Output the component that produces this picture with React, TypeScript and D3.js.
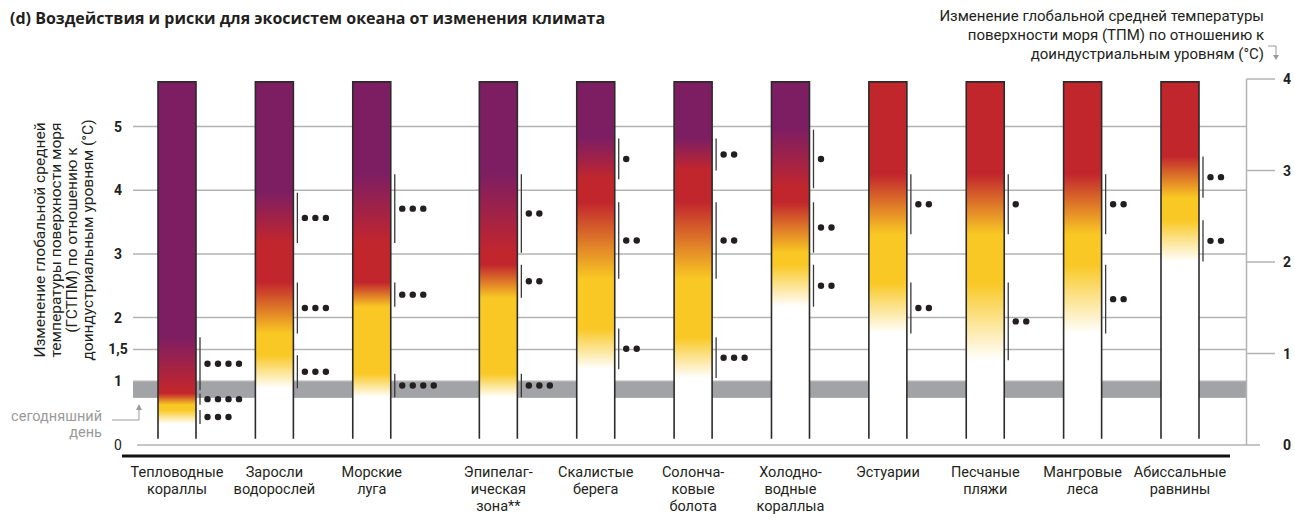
import { useEffect, useRef } from "react";
import * as d3 from "d3";

// экосистемы (подписи снизу)
const ecosystems = [
  "Тепловодные\nкораллы",
  "Заросли\nводорослей",
  "Морские\nлуга",
  "Эпипелаг-\nическая\nзона**",
  "Скалистые\nберега",
  "Солонча-\nковые\nболота",
  "Холодно-\nводные\nкораллыа",
  "Эстуарии",
  "Песчаные\nпляжи",
  "Мангровые\nлеса",
  "Абиссальные\nравнины",
];

// переходы риска: [нижняя граница, верхняя граница, уверенность] — ГСТПМ, °C
const undetectableToModerate = [
  [0.33, 0.55, 3],
  [0.89, 1.41, 3],
  [0.75, 1.12, 4],
  [0.75, 1.12, 3],
  [1.19, 1.83, 2],
  [1.05, 1.69, 3],
  [2.17, 2.83, 2],
  [1.75, 2.55, 2],
  [1.33, 2.55, 2],
  [1.75, 2.83, 2],
  [2.88, 3.53, 2],
];
const moderateToHigh = [
  [0.63, 0.81, 4],
  [1.75, 2.55, 3],
  [2.17, 2.55, 3],
  [2.31, 2.83, 2],
  [2.61, 3.81, 2],
  [2.61, 3.81, 2],
  [3.02, 3.81, 2],
  [3.31, 4.25, 2],
  [3.31, 4.25, 1],
  [3.31, 4.25, 2],
  [3.88, 4.53, 2],
];
const highToVeryHigh = [
  [0.86, 1.69, 4],
  [3.17, 3.96, 3],
  [3.17, 4.25, 3],
  [3.02, 4.25, 2],
  [4.17, 4.81, 1],
  [4.31, 4.81, 2],
  [4.03, 4.95, 1],
  null,
  null,
  null,
  null,
];

// шкалы
const gmstTicks = [0, 1, 1.5, 2, 3, 4, 5];
const gmstTickLabels = ["0", "1", "1,5", "2", "3", "4", "5"];
const sstTicks = [0, 1, 2, 3, 4];
const todayRange = [0.74, 0.99];
const barRange = [0.1, 5.7];

// белый, жёлтый, красный, фиолетовый
const levelColors = ["#FFFFFF", "#F9C824", "#C2262D", "#7E1E62"];

const FONT = "Roboto, 'Open Sans', sans-serif";

export default function App() {
  const ref = useRef<SVGSVGElement>(null);

  useEffect(() => {
    if (!ref.current) return;
    const svg = d3.select(ref.current);
    svg.selectAll("*").remove();

    const y = d3.scaleLinear().domain([0, 5]).range([445, 126.5]);
    const ySst = d3.scaleLinear().domain([0, 4]).range([445, 79]);
    // небольшой разрыв перед эпипелагической зоной
    const slot = (i: number) => i + (i >= 3 ? 0.3 : 0);
    const x = d3.scaleLinear().domain([0, slot(10)]).range([177, 1180]);
    const barW = 38;
    const gridLeft = 133;
    const axisX = 1246.5;

    // заголовок
    svg
      .append("text")
      .attr("x", 10)
      .attr("y", 24)
      .style("font-family", "'Open Sans', sans-serif")
      .style("font-size", "16px")
      .style("font-weight", 700)
      .style("fill", "#231f20")
      .text("(d) Воздействия и риски для экосистем океана от изменения климата");

    // заголовок правой оси
    const rightTitle = [
      "Изменение глобальной средней температуры",
      "поверхности моря (ТПМ) по отношению к",
      "доиндустриальным уровням (°C)",
    ];
    svg
      .append("g")
      .selectAll("text")
      .data(rightTitle)
      .enter()
      .append("text")
      .attr("x", 1264)
      .attr("y", (_, i) => 21 + i * 19)
      .attr("text-anchor", "end")
      .style("font-family", FONT)
      .style("font-size", "15px")
      .style("fill", "#231f20")
      .text((d) => d);
    svg
      .append("path")
      .attr("d", "M1268,46H1276V56")
      .style("fill", "none")
      .style("stroke", "#9a9a9a")
      .style("stroke-width", 1);
    svg
      .append("path")
      .attr("d", "M1273,55L1276,60L1279,55Z")
      .style("fill", "#9a9a9a");

    // заголовок левой оси
    const leftTitle = [
      "Изменение глобальной средней",
      "температуры поверхности моря",
      "(ГСТПМ) по отношению к",
      "доиндустриальным уровням (°C)",
    ];
    svg
      .append("g")
      .selectAll("text")
      .data(leftTitle)
      .enter()
      .append("text")
      .attr("transform", (_, i) => `translate(${45 + i * 16},240) rotate(-90)`)
      .attr("text-anchor", "middle")
      .style("font-family", FONT)
      .style("font-size", "15.5px")
      .style("fill", "#231f20")
      .text((d) => d);

    // сегодняшний день
    svg
      .append("rect")
      .attr("x", gridLeft)
      .attr("width", axisX - gridLeft)
      .attr("y", y(todayRange[1]))
      .attr("height", y(todayRange[0]) - y(todayRange[1]))
      .style("fill", "#A2A3A6");

    const today = ["сегодняшний", "день"];
    svg
      .append("g")
      .selectAll("text")
      .data(today)
      .enter()
      .append("text")
      .attr("x", 102)
      .attr("y", (_, i) => 421 + i * 16)
      .attr("text-anchor", "end")
      .style("font-family", FONT)
      .style("font-size", "14.5px")
      .style("fill", "#9a9a9a")
      .text((d) => d);
    svg
      .append("path")
      .attr("d", "M112,420H139V409")
      .style("fill", "none")
      .style("stroke", "#9a9a9a")
      .style("stroke-width", 1);
    svg
      .append("path")
      .attr("d", "M136,410L139,404L142,410Z")
      .style("fill", "#9a9a9a");

    // сетка
    svg
      .append("g")
      .selectAll("line")
      .data(gmstTicks)
      .enter()
      .append("line")
      .attr("x1", (d) => (d === 0 ? 137 : gridLeft))
      .attr("x2", (d) => (d === 0 ? 1260 : axisX))
      .attr("y1", (d) => y(d))
      .attr("y2", (d) => y(d))
      .style("stroke", "#B3B3B3")
      .style("stroke-width", 1.5);

    svg
      .append("g")
      .selectAll("text")
      .data(gmstTicks)
      .enter()
      .append("text")
      .attr("x", 118)
      .attr("y", (d) => y(d))
      .attr("dy", "0.36em")
      .attr("text-anchor", "middle")
      .style("font-family", FONT)
      .style("font-size", "14px")
      .style("font-weight", (d) => (d === 0 ? 400 : 700))
      .style("fill", "#231f20")
      .text((_, i) => gmstTickLabels[i]);

    // правая ось (ТПМ)
    svg
      .append("line")
      .attr("x1", axisX)
      .attr("x2", axisX)
      .attr("y1", ySst(4))
      .attr("y2", ySst(0))
      .style("stroke", "#B3B3B3")
      .style("stroke-width", 1.5);
    svg
      .append("g")
      .selectAll("line")
      .data(sstTicks.filter((d) => d > 0))
      .enter()
      .append("line")
      .attr("x1", axisX)
      .attr("x2", 1275)
      .attr("y1", (d) => ySst(d))
      .attr("y2", (d) => ySst(d))
      .style("stroke", "#B3B3B3")
      .style("stroke-width", 1.5);
    svg
      .append("g")
      .selectAll("text")
      .data(sstTicks)
      .enter()
      .append("text")
      .attr("x", 1283)
      .attr("y", (d) => ySst(d))
      .attr("dy", "0.36em")
      .style("font-family", FONT)
      .style("font-size", "14px")
      .style("font-weight", 700)
      .style("fill", "#231f20")
      .text((d) => d);

    // нижняя черта
    svg
      .append("line")
      .attr("x1", 122)
      .attr("x2", 1230)
      .attr("y1", 456)
      .attr("y2", 456)
      .style("stroke", "#111")
      .style("stroke-width", 3);

    // столбцы
    const defs = svg.append("defs");
    const yTop = y(barRange[1]);
    const yBot = y(barRange[0]);

    ecosystems.forEach((name, i) => {
      const trans = [
        undetectableToModerate[i],
        moderateToHigh[i],
        highToVeryHigh[i],
      ].filter((t) => t !== null) as number[][];
      const topLevel = trans.length;

      const off = (v: number) => (y(v) - yTop) / (yBot - yTop);
      const stops: { o: number; c: string }[] = [
        { o: 0, c: levelColors[topLevel] },
      ];
      for (let k = trans.length - 1; k >= 0; k--) {
        stops.push({ o: off(trans[k][1]), c: levelColors[k + 1] });
        stops.push({ o: off(trans[k][0]), c: levelColors[k] });
      }
      stops.push({ o: 1, c: levelColors[0] });

      const grad = defs
        .append("linearGradient")
        .attr("id", `grad-${i}`)
        .attr("gradientUnits", "userSpaceOnUse")
        .attr("x1", 0)
        .attr("x2", 0)
        .attr("y1", yTop)
        .attr("y2", yBot);
      stops.forEach((s) => {
        grad.append("stop").attr("offset", s.o).attr("stop-color", s.c);
      });

      const cx = x(slot(i));
      const left = cx - barW / 2;
      const right = cx + barW / 2;
      const g = svg.append("g");

      g.append("rect")
        .attr("x", left)
        .attr("y", yTop)
        .attr("width", barW)
        .attr("height", yBot - yTop)
        .style("fill", `url(#grad-${i})`);

      g.append("path")
        .attr("d", `M${left},${yBot}V${yTop}H${right}V${yBot}`)
        .style("fill", "none")
        .style("stroke", "#2b2b2b")
        .style("stroke-width", 1.6);

      // диапазоны переходов и уверенность
      const bx = right + 4;
      trans.forEach((t) => {
        g.append("line")
          .attr("x1", bx)
          .attr("x2", bx)
          .attr("y1", y(t[1]))
          .attr("y2", y(t[0]))
          .style("stroke", "#3a3a3a")
          .style("stroke-width", 1.3);
        const my = (y(t[0]) + y(t[1])) / 2;
        g.selectAll(null)
          .data(d3.range(t[2]))
          .enter()
          .append("circle")
          .attr("cx", (j) => bx + 7.5 + j * 10.5)
          .attr("cy", my)
          .attr("r", 3.2)
          .style("fill", "#231f20");
      });

      // подпись
      const lines = name.split("\n");
      g.append("g")
        .selectAll("text")
        .data(lines)
        .enter()
        .append("text")
        .attr("x", cx)
        .attr("y", (_, j) => 477 + j * 17)
        .attr("text-anchor", "middle")
        .style("font-family", FONT)
        .style("font-size", "14.5px")
        .style("fill", "#231f20")
        .text((d) => d);
    });
  }, []);

  return (
    <svg
      ref={ref}
      width={1295}
      height={519}
      viewBox="0 0 1295 519"
      style={{ position: "absolute", left: 0, top: 0, background: "#fff" }}
    />
  );
}
